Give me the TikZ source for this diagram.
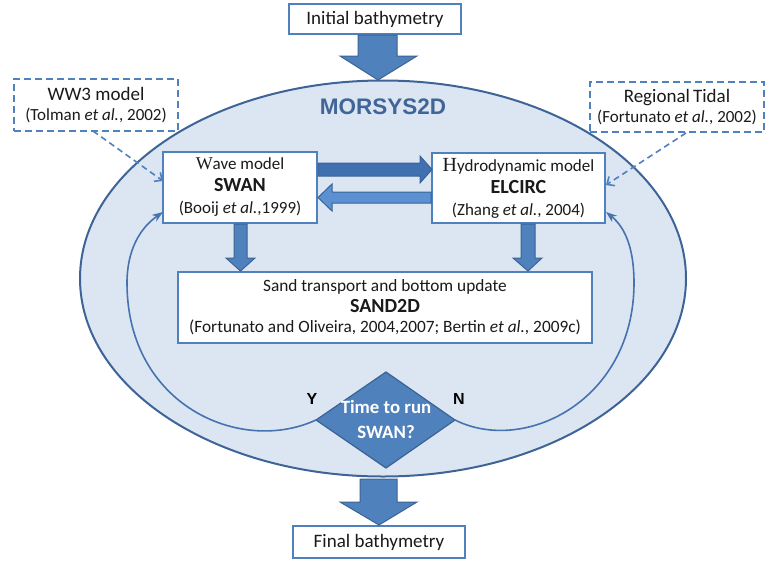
\documentclass[tikz,border=0pt]{standalone}
\usepackage{fontspec}
\setmainfont{Carlito}
\newfontfamily\serifface{Liberation Serif}
\newfontfamily\arialface{Liberation Sans}
\usetikzlibrary{arrows.meta,calc}
\definecolor{bluebd}{HTML}{4F81BD}
\definecolor{ellfill}{HTML}{DCE6F2}
\definecolor{elldraw}{HTML}{3E6497}
\definecolor{blkfill}{HTML}{4F81BD}
\definecolor{blkdraw}{HTML}{3A6394}
\definecolor{darkarr}{HTML}{3F70B0}
\definecolor{lightarr}{HTML}{5B90D3}
\definecolor{titleblue}{HTML}{416598}
\definecolor{curveblue}{HTML}{4673B0}
\definecolor{txt}{HTML}{1A1A1A}
\begin{document}
\begin{tikzpicture}[x=1pt,y=-1pt,
  box/.style={draw=bluebd, line width=2pt, fill=white, align=center, inner sep=0pt, text=txt, font=\fontsize{17}{22}\selectfont},
  dbox/.style={draw=bluebd, line width=2pt, dash pattern=on 7pt off 4pt, fill=white, align=center, inner sep=0pt, text=txt, font=\fontsize{19}{20}\selectfont},
  blockarrow/.style={fill=blkfill, draw=blkdraw, line width=1pt, line join=miter},
  smallblock/.style={fill=blkfill, draw=blkdraw, line width=1pt},
  loopline/.style={draw=curveblue, line width=1.6pt, -{Stealth[length=11pt,width=8pt]}},
  dasharrow/.style={draw=bluebd, line width=1.6pt, dash pattern=on 6pt off 4pt, -{Straight Barb[length=6pt,width=11pt,line width=1.6pt]}},
  yn/.style={font=\arialface\bfseries\fontsize{16}{18}\selectfont, text=black}
]
\useasboundingbox (0,0) rectangle (765,565);

% main ellipse
\draw[fill=ellfill, draw=elldraw, line width=2pt] (383,278.5) ellipse [x radius=303, y radius=198];
\node[font=\arialface\bfseries\fontsize{22.5}{24}\selectfont, text=titleblue] (title) at (383,107) {MORSYS2D};

% top and bottom boxes
\node[box, minimum width=172pt, minimum height=30pt, font=\fontsize{19}{20}\selectfont] (init) at (375,19) {Initial bathymetry};
\node[box, minimum width=172pt, minimum height=32pt, font=\fontsize{19}{20}\selectfont] (final) at (379,542) {Final bathymetry};

% big block arrows
\draw[blockarrow] (358,35) -- (397,35) -- (397,56) -- (417,56) -- (378,80) -- (340,56) -- (358,56) -- cycle;
\draw[blockarrow] (360,479) -- (397,479) -- (397,502) -- (417,502) -- (379,525) -- (340,502) -- (360,502) -- cycle;

% external forcing boxes
\node[dbox, minimum width=164pt, minimum height=52pt] (ww3) at (96,105) {WW3 model\\{\fontsize{17}{20}\selectfont(Tolman \textit{et al.}, 2002)}};
\node[dbox, minimum width=174pt, minimum height=50pt] (tidal) at (677,107) {Regional\,Tidal\\{\fontsize{17}{20}\selectfont(Fortunato \textit{et al.}, 2002)}};

% model boxes
\node[box, minimum width=154pt, minimum height=71pt] (swan) at (240,187.5) {{\serifface\fontsize{18}{22}\selectfont W}ave model\\{\fontsize{20}{22}\selectfont\bfseries SWAN}\\(Booij \textit{et al.},1999)};
\node[box, minimum width=173pt, minimum height=70pt] (elcirc) at (518.5,188) {{\serifface\fontsize{20}{22}\selectfont H}ydrodynamic model\\{\fontsize{20}{22}\selectfont\bfseries ELCIRC}\\(Zhang \textit{et al.}, 2004)};
\node[box, minimum width=414pt, minimum height=71pt, font=\fontsize{17.3}{20.5}\selectfont] (sand) at (385,307.5) {Sand transport and bottom update\\{\fontsize{20}{20.5}\selectfont\bfseries SAND2D}\\(Fortunato and Oliveira, 2004,2007; Bertin \textit{et al.}, 2009c)};

% horizontal coupling arrows
\draw[smallblock, fill=darkarr] (318,163) -- (420,163) -- (420,156) -- (432,169.5) -- (420,183) -- (420,176) -- (318,176) -- cycle;
\draw[smallblock, fill=lightarr] (431,192) -- (332,192) -- (332,184) -- (318,197.5) -- (332,211) -- (332,203) -- (431,203) -- cycle;

% vertical arrows to SAND2D
\draw[smallblock] (234,224) -- (247,224) -- (247,258) -- (255,258) -- (240.5,271) -- (226,258) -- (234,258) -- cycle;
\draw[smallblock] (521,224) -- (535,224) -- (535,258) -- (542,258) -- (528,271) -- (513,258) -- (521,258) -- cycle;

% decision diamond
\coordinate (dtop) at (386,372);
\coordinate (dleft) at (316,420);
\coordinate (dright) at (455,420);
\coordinate (dbot) at (386,468);
\draw[fill=blkfill, draw=blkdraw, line width=1.2pt] (dtop) -- (dright) -- (dbot) -- (dleft) -- cycle;
\node[align=center, text=white, font=\bfseries\fontsize{18.8}{25}\selectfont] (dtext) at (386,419) {Time to run\\SWAN?};
\node[yn] (ylab) at (312,399) {Y};
\node[yn] (nlab) at (459,399) {N};

% loop lines
\coordinate (swanin) at (163,212);
\coordinate (elcin) at (606,212);
\draw[loopline] (dleft) .. controls (240,455) and (127,405) .. (127,283) .. controls (127,250) and (140,228) .. (swanin);
\draw[loopline] (dright) .. controls (525,455) and (634,400) .. (634,283) .. controls (634,250) and (626,228) .. (elcin);

% dashed forcing arrows
\coordinate (ww3out) at (93,131);
\coordinate (swanww) at (163,181);
\coordinate (tidout) at (686,133);
\coordinate (elcti) at (606,185);
\draw[dasharrow] (ww3out) -- (swanww);
\draw[dasharrow] (tidout) -- (elcti);
\end{tikzpicture}
\end{document}
